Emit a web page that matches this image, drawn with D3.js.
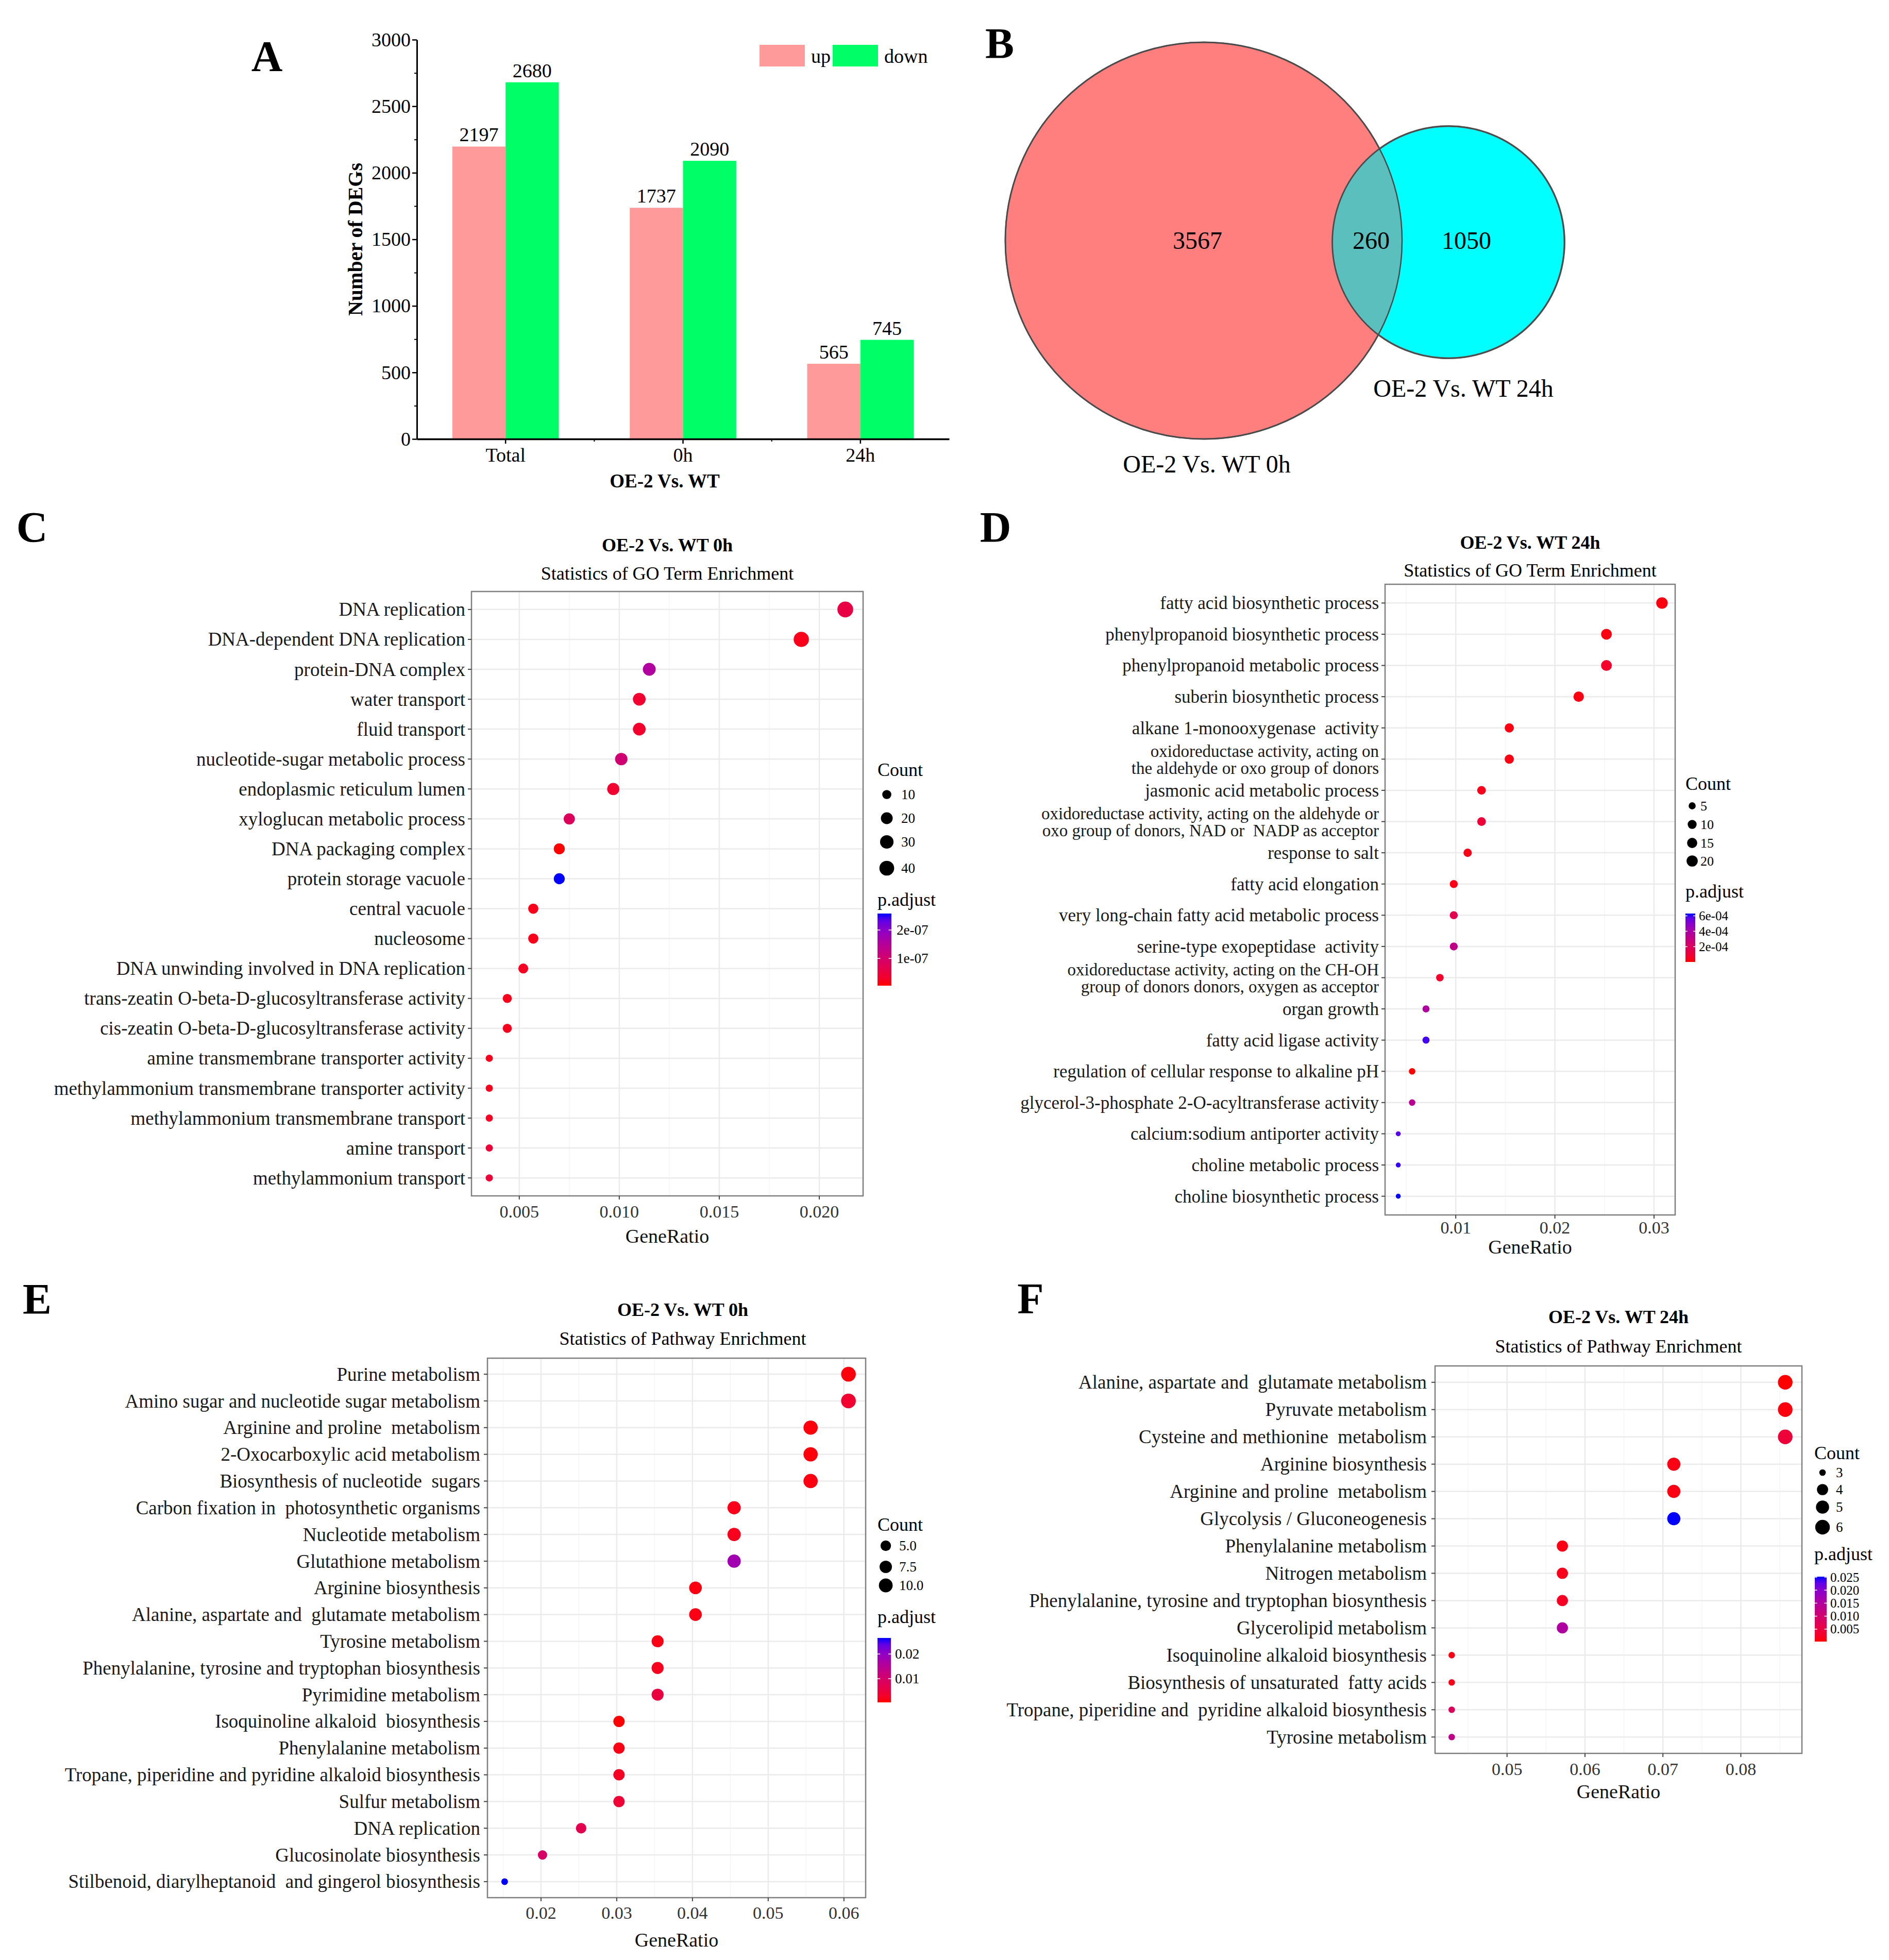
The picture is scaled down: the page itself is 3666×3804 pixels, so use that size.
<!DOCTYPE html>
<html><head><meta charset="utf-8">
<script src="https://cdn.jsdelivr.net/npm/d3@7"></script>
<style>
body{margin:0;background:#fff;}
svg text{font-family:"Liberation Serif","Times New Roman",serif; white-space:pre;}
</style></head><body>
<svg id="fig" width="3666" height="3804" xmlns="http://www.w3.org/2000/svg"></svg>
<script>
// ---------------- DATA ----------------
// Panel A
const aGroups = ["Total", "0h", "24h"];
const aSeries = ["up", "down"];
const aUp = [2197, 1737, 565];
const aDown = [2680, 2090, 745];
const aYTicks = [0, 500, 1000, 1500, 2000, 2500, 3000];
const aYMinorTicks = [250, 750, 1250, 1750, 2250, 2750];

// Panel B (Venn)
const vennSetLabels = ["OE-2 Vs. WT 0h", "OE-2 Vs. WT 24h"];
const vennOnly = [3567, 1050];
const vennShared = 260;

// Panel C: GO, OE-2 vs WT 0h
const cTerms = ["DNA replication","DNA-dependent DNA replication","protein-DNA complex","water transport","fluid transport","nucleotide-sugar metabolic process","endoplasmic reticulum lumen","xyloglucan metabolic process","DNA packaging complex","protein storage vacuole","central vacuole","nucleosome","DNA unwinding involved in DNA replication","trans-zeatin O-beta-D-glucosyltransferase activity","cis-zeatin O-beta-D-glucosyltransferase activity","amine transmembrane transporter activity","methylammonium transmembrane transporter activity","methylammonium transmembrane transport","amine transport","methylammonium transport"];
const cRatio = [0.0213,0.0191,0.0115,0.0110,0.0110,0.0101,0.0097,0.0075,0.0070,0.0070,0.0057,0.0057,0.0052,0.0044,0.0044,0.0035,0.0035,0.0035,0.0035,0.0035];
const cCount = [49,44,26,25,25,23,22,17,16,16,13,13,12,10,10,8,8,8,8,8];
const cPadj = [5.5e-8,1.7e-8,1.56e-7,3.4e-8,3.2e-8,1.06e-7,3.4e-8,8.0e-8,4e-9,2.58e-7,1.7e-8,1.7e-8,2.2e-8,1.9e-8,1.9e-8,1.9e-8,1.9e-8,2.4e-8,4.2e-8,4.2e-8];
const cXTicks = [0.005, 0.010, 0.015, 0.020];
const cXTickLabels = ["0.005", "0.010", "0.015", "0.020"];
const cSizeBreaks = [10, 20, 30, 40];
const cPadjBreaks = [1e-7, 2e-7];
const cPadjLabels = ["1e-07", "2e-07"];

// Panel D: GO, OE-2 vs WT 24h
const dTerms = ["fatty acid biosynthetic process","phenylpropanoid biosynthetic process","phenylpropanoid metabolic process","suberin biosynthetic process","alkane 1-monooxygenase  activity","oxidoreductase activity, acting on\nthe aldehyde or oxo group of donors","jasmonic acid metabolic process","oxidoreductase activity, acting on the aldehyde or\noxo group of donors, NAD or  NADP as acceptor","response to salt","fatty acid elongation","very long-chain fatty acid metabolic process","serine-type exopeptidase  activity","oxidoreductase activity, acting on the CH-OH\ngroup of donors donors, oxygen as acceptor","organ growth","fatty acid ligase activity","regulation of cellular response to alkaline pH","glycerol-3-phosphate 2-O-acyltransferase activity","calcium:sodium antiporter activity","choline metabolic process","choline biosynthetic process"];
const dRatio = [0.0308,0.0252,0.0252,0.0224,0.0154,0.0154,0.0126,0.0126,0.0112,0.0098,0.0098,0.0098,0.0084,0.0070,0.0070,0.0056,0.0056,0.0042,0.0042,0.0042];
const dCount = [22,18,18,16,11,11,9,9,8,7,7,7,6,5,5,4,4,3,3,3];
const dPadj = [1.5e-5,2.1e-5,6.5e-5,2.1e-5,2.1e-5,2.1e-5,3.3e-5,9.6e-5,2.7e-5,2.7e-5,1.59e-4,3.16e-4,6.5e-5,3.79e-4,6.0e-4,2e-6,3.47e-4,5.8e-4,6.11e-4,6.3e-4];
const dXTicks = [0.01, 0.02, 0.03];
const dXTickLabels = ["0.01", "0.02", "0.03"];
const dSizeBreaks = [5, 10, 15, 20];
const dPadjBreaks = [2e-4, 4e-4, 6e-4];
const dPadjLabels = ["2e-04", "4e-04", "6e-04"];

// Panel E: KEGG, OE-2 vs WT 0h
const eTerms = ["Purine metabolism","Amino sugar and nucleotide sugar metabolism","Arginine and proline  metabolism","2-Oxocarboxylic acid metabolism","Biosynthesis of nucleotide  sugars","Carbon fixation in  photosynthetic organisms","Nucleotide metabolism","Glutathione metabolism","Arginine biosynthesis","Alanine, aspartate and  glutamate metabolism","Tyrosine metabolism","Phenylalanine, tyrosine and tryptophan biosynthesis","Pyrimidine metabolism","Isoquinoline alkaloid  biosynthesis","Phenylalanine metabolism","Tropane, piperidine and pyridine alkaloid biosynthesis","Sulfur metabolism","DNA replication","Glucosinolate biosynthesis","Stilbenoid, diarylheptanoid  and gingerol biosynthesis"];
const eRatio = [0.0606,0.0606,0.0556,0.0556,0.0556,0.0455,0.0455,0.0455,0.0404,0.0404,0.0354,0.0354,0.0354,0.0303,0.0303,0.0303,0.0303,0.0253,0.0202,0.0152];
const eCount = [12,12,11,11,11,9,9,9,8,8,7,7,7,6,6,6,6,5,4,3];
const ePadj = [0.0009,0.0035,0.0009,0.0009,0.0012,0.0017,0.0020,0.0181,0.0012,0.0014,0.0014,0.0020,0.0051,0.0004,0.0014,0.0025,0.0043,0.0069,0.0095,0.0265];
const eXTicks = [0.02, 0.03, 0.04, 0.05, 0.06];
const eXTickLabels = ["0.02", "0.03", "0.04", "0.05", "0.06"];
const eSizeBreaks = [5, 7.5, 10];
const eSizeLabels = ["5.0", "7.5", "10.0"];
const ePadjBreaks = [0.01, 0.02];
const ePadjLabels = ["0.01", "0.02"];

// Panel F: KEGG, OE-2 vs WT 24h
const fTerms = ["Alanine, aspartate and  glutamate metabolism","Pyruvate metabolism","Cysteine and methionine  metabolism","Arginine biosynthesis","Arginine and proline  metabolism","Glycolysis / Gluconeogenesis","Phenylalanine metabolism","Nitrogen metabolism","Phenylalanine, tyrosine and tryptophan biosynthesis","Glycerolipid metabolism","Isoquinoline alkaloid biosynthesis","Biosynthesis of unsaturated  fatty acids","Tropane, piperidine and  pyridine alkaloid biosynthesis","Tyrosine metabolism"];
const fRatio = [0.0857,0.0857,0.0857,0.0714,0.0714,0.0714,0.0571,0.0571,0.0571,0.0571,0.0429,0.0429,0.0429,0.0429];
const fCount = [6,6,6,5,5,5,4,4,4,4,3,3,3,3];
const fPadj = [0.0002,0.0007,0.0040,0.0010,0.0010,0.0252,0.0010,0.0015,0.0022,0.0152,0.0010,0.0015,0.0077,0.0127];
const fXTicks = [0.05, 0.06, 0.07, 0.08];
const fXTickLabels = ["0.05", "0.06", "0.07", "0.08"];
const fSizeBreaks = [3, 4, 5, 6];
const fPadjBreaks = [0.005, 0.010, 0.015, 0.020, 0.025];
const fPadjLabels = ["0.005", "0.010", "0.015", "0.020", "0.025"];

// ---------------- DRAWING ----------------
const svg = d3.select("#fig");
svg.append("rect").attr("width", 3666).attr("height", 3804).attr("fill", "#fff");
const SANS = '"Liberation Sans", Arial, sans-serif';
const defs = svg.append("defs");

function panelLetter(t, x, y) {
  svg.append("text").attr("x", x).attr("y", y).attr("text-anchor", "middle")
    .attr("font-size", 84).attr("font-weight", "bold").attr("fill", "#000").text(t);
}

// ----- Panel A -----
(function () {
  const L = 809, R = 1842, T = 77, B = 852;
  const g = svg.append("g");
  const x = d3.scaleBand().domain(aGroups).range([L, R]).paddingInner(0.4).paddingOuter(0.2);
  const xs = d3.scaleBand().domain(aSeries).range([0, x.bandwidth()]);
  const y = d3.scaleLinear().domain([0, 3000]).range([B, T]);
  const col = d3.scaleOrdinal().domain(aSeries).range(["#FF9A9A", "#00FF66"]);
  const vals = { up: aUp, down: aDown };

  aSeries.forEach(s => {
    g.selectAll(null).data(aGroups).enter().append("rect")
      .attr("x", d => x(d) + xs(s)).attr("width", xs.bandwidth())
      .attr("y", (d, i) => y(vals[s][i])).attr("height", (d, i) => B - y(vals[s][i]))
      .attr("fill", col(s));
    g.selectAll(null).data(aGroups).enter().append("text")
      .attr("x", d => x(d) + xs(s) + xs.bandwidth() / 2)
      .attr("y", (d, i) => y(vals[s][i]) - 10)
      .attr("text-anchor", "middle").attr("font-size", 38).attr("fill", "#000")
      .text((d, i) => vals[s][i]);
  });

  // Y axis
  const ya = g.append("g").attr("transform", `translate(${L},0)`)
    .call(d3.axisLeft(y).tickValues(aYTicks).tickSize(9).tickSizeOuter(0).tickPadding(3).tickFormat(d3.format("d")));
  ya.select(".domain").attr("stroke", "#000").attr("stroke-width", 3);
  ya.selectAll(".tick line").attr("stroke", "#000").attr("stroke-width", 2.5);
  ya.selectAll(".tick text").attr("font-size", 38).attr("fill", "#000").attr("font-family", null);
  const yam = g.append("g").attr("transform", `translate(${L},0)`)
    .call(d3.axisLeft(y).tickValues(aYMinorTicks).tickSize(5).tickFormat(""));
  yam.select(".domain").remove();
  yam.selectAll(".tick line").attr("stroke", "#000").attr("stroke-width", 2);

  // X axis
  const xa = g.append("g").attr("transform", `translate(0,${B})`)
    .call(d3.axisBottom(x).tickSize(9).tickSizeOuter(0).tickPadding(8));
  xa.select(".domain").attr("stroke", "#000").attr("stroke-width", 3.5);
  xa.selectAll(".tick line").attr("stroke", "#000").attr("stroke-width", 2.5);
  xa.selectAll(".tick text").attr("font-size", 38).attr("fill", "#000").attr("font-family", null);
  const bounds = aGroups.slice(1).map(d => x(d) - x.step() * x.paddingInner() / 2);
  g.selectAll(null).data(bounds).enter().append("line")
    .attr("x1", d => d).attr("x2", d => d).attr("y1", B).attr("y2", B + 5)
    .attr("stroke", "#000").attr("stroke-width", 2);

  // titles
  g.append("text").attr("x", 1290).attr("y", 946).attr("text-anchor", "middle")
    .attr("font-size", 37).attr("font-weight", "bold").text("OE-2 Vs. WT");
  g.append("text").attr("transform", `translate(703,${(T + B) / 2}) rotate(-90)`)
    .attr("text-anchor", "middle").attr("font-size", 40).attr("font-weight", "bold").text("Number of DEGs");

  // legend
  const lg = g.append("g");
  const lx = d3.scaleOrdinal().domain(aSeries).range([1474, 1616]);
  lg.selectAll(null).data(aSeries).enter().append("rect")
    .attr("x", d => lx(d)).attr("y", 87).attr("width", 88).attr("height", 42).attr("fill", d => col(d));
  lg.selectAll(null).data(aSeries).enter().append("text")
    .attr("x", d => lx(d) + 100).attr("y", 122).attr("font-size", 38).text(d => d);

  panelLetter("A", 518, 138);
})();

// ----- Panel B (Venn) -----
(function () {
  const g = svg.append("g");
  const totals = [vennOnly[0] + vennShared, vennOnly[1] + vennShared];
  const rScale = d3.scaleSqrt().domain([0, totals[0]]).range([0, 385]);
  const c0 = { x: 2336, y: 467, r: rScale(totals[0]) };
  const c1 = { x: 2811, y: 470, r: rScale(totals[1]) };
  defs.append("clipPath").attr("id", "clipRed").append("circle")
    .attr("cx", c0.x).attr("cy", c0.y).attr("r", c0.r);
  g.append("circle").attr("cx", c0.x).attr("cy", c0.y).attr("r", c0.r)
    .attr("fill", "#FF7F7F").attr("stroke", "#5a5a5a").attr("stroke-width", 3);
  g.append("circle").attr("cx", c1.x).attr("cy", c1.y).attr("r", c1.r)
    .attr("fill", "#00FFFF").attr("stroke", "#6a6a6a").attr("stroke-width", 3.5);
  g.append("circle").attr("cx", c1.x).attr("cy", c1.y).attr("r", c1.r)
    .attr("fill", "#5ABFBD").attr("clip-path", "url(#clipRed)");
  g.append("circle").attr("cx", c0.x).attr("cy", c0.y).attr("r", c0.r)
    .attr("fill", "none").attr("stroke", "#4a4a4a").attr("stroke-width", 2.5);
  g.append("circle").attr("cx", c1.x).attr("cy", c1.y).attr("r", c1.r)
    .attr("fill", "none").attr("stroke", "#4a4a4a").attr("stroke-width", 2.5);

  const nums = [
    { v: vennOnly[0], x: 2324 },
    { v: vennShared, x: 2661 },
    { v: vennOnly[1], x: 2846 }
  ];
  g.selectAll(null).data(nums).enter().append("text")
    .attr("x", d => d.x).attr("y", 483).attr("text-anchor", "middle")
    .attr("font-size", 48).text(d => d.v);
  g.append("text").attr("x", 2342).attr("y", 917).attr("text-anchor", "middle")
    .attr("font-size", 48).text(vennSetLabels[0]);
  g.append("text").attr("x", 2840).attr("y", 770).attr("text-anchor", "middle")
    .attr("font-size", 48).text(vennSetLabels[1]);
  panelLetter("B", 1940, 113);
})();

// ----- Dot plot function -----
let gradId = 0;
function dotPlot(cfg) {
  const g = svg.append("g");
  const { x0, x1, y0, y1 } = cfg.panel;
  const ext = d3.extent(cfg.ratio), pad = (ext[1] - ext[0]) * 0.05;
  const x = d3.scaleLinear().domain([ext[0] - pad, ext[1] + pad]).range([x0, x1]);
  const y = d3.scalePoint().domain(cfg.terms).range([y0, y1]).padding(0.6);
  const cext = d3.extent(cfg.count);
  const rs = d3.scaleLinear().domain([0, 1]).range([cfg.rMin, cfg.rMax]);
  const r = v => rs(Math.sqrt((v - cext[0]) / (cext[1] - cext[0])));
  const pext = d3.extent(cfg.padj);
  const col = d3.scaleLinear().domain(pext).range(["#FF0000", "#0000FF"]).interpolate(d3.interpolateLab);

  // grid
  const step = cfg.xTicks[1] - cfg.xTicks[0];
  const minor = [];
  for (let k = -2; k < cfg.xTicks.length + 2; k++) {
    const v = cfg.xTicks[0] + (k + 0.5) * step;
    if (v > x.domain()[0] && v < x.domain()[1]) minor.push(v);
  }
  g.selectAll(null).data(minor).enter().append("line")
    .attr("x1", d => x(d)).attr("x2", d => x(d)).attr("y1", y0).attr("y2", y1)
    .attr("stroke", "#F5F5F5").attr("stroke-width", 1.5);
  g.selectAll(null).data(cfg.xTicks).enter().append("line")
    .attr("x1", d => x(d)).attr("x2", d => x(d)).attr("y1", y0).attr("y2", y1)
    .attr("stroke", "#EBEBEB").attr("stroke-width", 2.5);
  g.selectAll(null).data(cfg.terms).enter().append("line")
    .attr("x1", x0).attr("x2", x1).attr("y1", d => y(d)).attr("y2", d => y(d))
    .attr("stroke", "#EBEBEB").attr("stroke-width", 2.5);

  // points
  g.selectAll(null).data(cfg.terms).enter().append("circle")
    .attr("cx", (d, i) => x(cfg.ratio[i])).attr("cy", d => y(d))
    .attr("r", (d, i) => r(cfg.count[i])).attr("fill", (d, i) => col(cfg.padj[i]));

  // border
  g.append("rect").attr("x", x0).attr("y", y0).attr("width", x1 - x0).attr("height", y1 - y0)
    .attr("fill", "none").attr("stroke", "#7F7F7F").attr("stroke-width", 2.5);

  // y ticks & labels
  g.selectAll(null).data(cfg.terms).enter().append("line")
    .attr("x1", x0 - 7).attr("x2", x0).attr("y1", d => y(d)).attr("y2", d => y(d))
    .attr("stroke", "#444").attr("stroke-width", 2);
  const lbl = g.selectAll(null).data(cfg.terms).enter().append("text")
    .attr("x", x0 - cfg.labelGap).attr("y", d => y(d) + cfg.labelSize * 0.34)
    .attr("text-anchor", "end").attr("font-size", cfg.labelSize).attr("fill", "#1a1a1a");
  lbl.each(function (d) {
    const lines = d.split("\n");
    const t = d3.select(this);
    if (lines.length > 1) t.attr("font-size", cfg.multiSize || cfg.labelSize);
    lines.forEach((ln, k) => {
      t.append("tspan").attr("x", x0 - cfg.labelGap)
        .attr("dy", k === 0 ? -(lines.length - 1) / 2 * cfg.lineH : cfg.lineH).text(ln);
    });
  });

  // x ticks & labels
  g.selectAll(null).data(cfg.xTicks).enter().append("line")
    .attr("x1", d => x(d)).attr("x2", d => x(d)).attr("y1", y1).attr("y2", y1 + 7)
    .attr("stroke", "#444").attr("stroke-width", 2);
  g.selectAll(null).data(cfg.xTicks).enter().append("text")
    .attr("x", d => x(d)).attr("y", y1 + cfg.tickDy).attr("text-anchor", "middle")
    .attr("font-size", 34).attr("fill", "#333").text((d, i) => cfg.xTickLabels[i]);
  g.append("text").attr("x", (x0 + x1) / 2).attr("y", y1 + cfg.xTitleDy).attr("text-anchor", "middle")
    .attr("font-size", 38).attr("fill", "#111").text("GeneRatio");

  // titles
  g.append("text").attr("x", (x0 + x1) / 2 + (cfg.titleDx || 0)).attr("y", cfg.titleY).attr("text-anchor", "middle")
    .attr("font-size", 36).attr("font-weight", "bold").text(cfg.title);
  g.append("text").attr("x", (x0 + x1) / 2 + (cfg.titleDx || 0)).attr("y", cfg.subY).attr("text-anchor", "middle")
    .attr("font-size", 36).text(cfg.subtitle);

  // size legend
  const L = cfg.legend;
  g.append("text").attr("x", L.x).attr("y", L.countY).attr("font-size", 36).text("Count");
  g.selectAll(null).data(cfg.sizeBreaks).enter().append("circle")
    .attr("cx", L.dotX).attr("cy", (d, i) => L.dotYs[i]).attr("r", d => r(d)).attr("fill", "#000");
  g.selectAll(null).data(cfg.sizeBreaks).enter().append("text")
    .attr("x", L.sizeLabelX).attr("y", (d, i) => L.dotYs[i] + 9).attr("font-size", L.smallSize)
    .text((d, i) => (cfg.sizeLabels ? cfg.sizeLabels[i] : d));

  // colour legend
  g.append("text").attr("x", L.x).attr("y", L.padjY).attr("font-size", 36).text("p.adjust");
  const id = "cb" + (gradId++);
  const lgr = defs.append("linearGradient").attr("id", id)
    .attr("x1", 0).attr("x2", 0).attr("y1", 1).attr("y2", 0);
  d3.range(0, 1.0001, 0.1).forEach(t => {
    lgr.append("stop").attr("offset", t).attr("stop-color", col(pext[0] + t * (pext[1] - pext[0])));
  });
  const cb = L.cbar;
  g.append("rect").attr("x", cb.x).attr("y", cb.y).attr("width", cb.w).attr("height", cb.h)
    .attr("fill", `url(#${id})`);
  const cy = d3.scaleLinear().domain(pext).range([cb.y + cb.h, cb.y]);
  g.selectAll(null).data(cfg.padjBreaks).enter().append("line")
    .attr("x1", cb.x).attr("x2", cb.x + cb.w * 0.2).attr("y1", d => cy(d)).attr("y2", d => cy(d))
    .attr("stroke", "#fff").attr("stroke-width", 1.5);
  g.selectAll(null).data(cfg.padjBreaks).enter().append("line")
    .attr("x1", cb.x + cb.w * 0.8).attr("x2", cb.x + cb.w).attr("y1", d => cy(d)).attr("y2", d => cy(d))
    .attr("stroke", "#fff").attr("stroke-width", 1.5);
  g.selectAll(null).data(cfg.padjBreaks).enter().append("text")
    .attr("x", L.cbLabelX).attr("y", d => cy(d) + L.cbFont * 0.34).attr("font-size", L.cbFont)
    .attr("font-family", L.cbSans ? SANS : null)
    .text((d, i) => cfg.padjLabels[i]);
}

// ----- Panel C -----
dotPlot({
  terms: cTerms, ratio: cRatio, count: cCount, padj: cPadj,
  xTicks: cXTicks, xTickLabels: cXTickLabels, sizeBreaks: cSizeBreaks,
  padjBreaks: cPadjBreaks, padjLabels: cPadjLabels,
  panel: { x0: 915, x1: 1675, y0: 1148, y1: 2321 },
  rMin: 7, rMax: 15.3, labelSize: 37, labelGap: 12, lineH: 32,
  tickDy: 42, xTitleDy: 91, title: "OE-2 Vs. WT 0h", subtitle: "Statistics of GO Term Enrichment",
  titleY: 1070, subY: 1125,
  legend: { x: 1703, countY: 1506, dotX: 1721, dotYs: [1542, 1588, 1634, 1685], sizeLabelX: 1749, smallSize: 27,
    padjY: 1758, cbar: { x: 1703, y: 1773, w: 27, h: 140 }, cbLabelX: 1740, cbFont: 27, cbSans: false }
});
panelLetter("C", 62, 1052);

// ----- Panel D -----
dotPlot({
  terms: dTerms, ratio: dRatio, count: dCount, padj: dPadj,
  xTicks: dXTicks, xTickLabels: dXTickLabels, sizeBreaks: dSizeBreaks,
  padjBreaks: dPadjBreaks, padjLabels: dPadjLabels,
  panel: { x0: 2688, x1: 3251, y0: 1134, y1: 2358 },
  rMin: 4.8, rMax: 11.2, labelSize: 35, multiSize: 33, labelGap: 12, lineH: 33,
  tickDy: 36, xTitleDy: 75, title: "OE-2 Vs. WT 24h", subtitle: "Statistics of GO Term Enrichment",
  titleY: 1065, subY: 1119,
  legend: { x: 3271, countY: 1533, dotX: 3284, dotYs: [1564, 1600, 1636, 1671], sizeLabelX: 3300, smallSize: 26,
    padjY: 1742, cbar: { x: 3271, y: 1773, w: 19, h: 94 }, cbLabelX: 3297, cbFont: 25, cbSans: true }
});
panelLetter("D", 1932, 1052);

// ----- Panel E -----
dotPlot({
  terms: eTerms, ratio: eRatio, count: eCount, padj: ePadj,
  xTicks: eXTicks, xTickLabels: eXTickLabels, sizeBreaks: eSizeBreaks, sizeLabels: eSizeLabels,
  padjBreaks: ePadjBreaks, padjLabels: ePadjLabels,
  panel: { x0: 946, x1: 1680, y0: 2636, y1: 3683 },
  rMin: 6.5, rMax: 14.3, labelSize: 37, labelGap: 14, lineH: 32,
  tickDy: 41, xTitleDy: 95, title: "OE-2 Vs. WT 0h", subtitle: "Statistics of Pathway Enrichment",
  titleY: 2554, subY: 2610, titleDx: 12,
  legend: { x: 1703, countY: 2971, dotX: 1719, dotYs: [3000, 3041, 3077], sizeLabelX: 1745, smallSize: 27,
    padjY: 3150, cbar: { x: 1703, y: 3179, w: 26, h: 125 }, cbLabelX: 1737, cbFont: 27, cbSans: false }
});
panelLetter("E", 72, 2550);

// ----- Panel F -----
dotPlot({
  terms: fTerms, ratio: fRatio, count: fCount, padj: fPadj,
  xTicks: fXTicks, xTickLabels: fXTickLabels, sizeBreaks: fSizeBreaks,
  padjBreaks: fPadjBreaks, padjLabels: fPadjLabels,
  panel: { x0: 2785, x1: 3497, y0: 2651, y1: 3403 },
  rMin: 6.3, rMax: 14.2, labelSize: 37, labelGap: 16, lineH: 32,
  tickDy: 42, xTitleDy: 87, title: "OE-2 Vs. WT 24h", subtitle: "Statistics of Pathway Enrichment",
  titleY: 2568, subY: 2625,
  legend: { x: 3521, countY: 2832, dotX: 3537, dotYs: [2858, 2891, 2925, 2964], sizeLabelX: 3563, smallSize: 27,
    padjY: 3028, cbar: { x: 3522, y: 3060, w: 23, h: 126 }, cbLabelX: 3552, cbFont: 25, cbSans: false }
});
panelLetter("F", 2000, 2549);
</script>
</body></html>
